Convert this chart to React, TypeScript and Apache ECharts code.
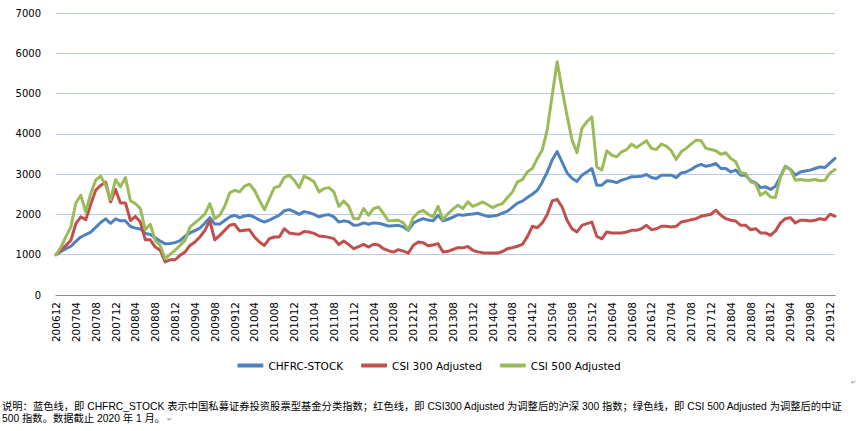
import React, { useEffect, useRef } from "react";
import * as echarts from "echarts";

// Monthly categories 200612 .. 202001
const months: string[] = (() => {
  const out: string[] = [];
  let y = 2006;
  let m = 12;
  while (y < 2020 || (y === 2020 && m <= 1)) {
    out.push(`${y}${m < 10 ? "0" + m : m}`);
    m += 1;
    if (m > 12) {
      m = 1;
      y += 1;
    }
  }
  return out;
})();

const chfrcStock: number[] = [
  1000, 1080, 1150, 1210, 1330, 1440, 1500, 1560, 1680, 1800,
  1890, 1780, 1890, 1840, 1840, 1700, 1660, 1640, 1530, 1500,
  1420, 1340, 1270, 1280, 1300, 1350, 1460, 1540, 1600, 1660,
  1780, 1920, 1760, 1760, 1850, 1940, 1980, 1920, 1960, 1980,
  1930, 1860, 1810, 1860, 1920, 1980, 2090, 2120, 2070, 2000,
  2070, 2045, 2000, 1940, 1980, 1995, 1940, 1810, 1840, 1820,
  1730, 1740, 1790, 1755, 1790, 1780, 1750, 1710, 1720, 1730,
  1690, 1605, 1780, 1850, 1895, 1860, 1840, 1980, 1840, 1880,
  1930, 1995, 1980, 2000, 2010, 2030, 1990, 1950, 1960, 1980,
  2030, 2080, 2180, 2280, 2330, 2420, 2500, 2600, 2800, 3050,
  3350, 3560, 3300, 3030, 2900, 2820, 2975, 3055, 3140, 2725,
  2725, 2835, 2825, 2790, 2850, 2890, 2935, 2935, 2950, 2990,
  2915, 2890, 2975, 2975, 2975, 2915, 3030, 3055, 3115, 3195,
  3245, 3195, 3220, 3265, 3140, 3140, 3055, 3100, 2975, 2975,
  2835, 2785, 2665, 2685, 2620, 2700, 2935, 3195, 3115, 2975,
  3055, 3080, 3100, 3140, 3180, 3165, 3280, 3390,
];

const csi300Adjusted: number[] = [
  1000, 1110, 1230, 1360, 1770, 1940, 1870, 2250, 2600, 2720,
  2800, 2310, 2620, 2285, 2285, 1850, 1950, 1810, 1370, 1370,
  1190, 1110, 820, 875, 875, 985, 1065, 1230, 1315, 1440,
  1605, 1840, 1370, 1480, 1605, 1730, 1755, 1590, 1605, 1620,
  1440, 1315, 1230, 1400, 1440, 1440, 1645, 1540, 1520, 1505,
  1575, 1565, 1530, 1465, 1455, 1430, 1400, 1255, 1340, 1250,
  1150, 1200, 1255, 1190, 1260, 1240, 1150, 1100, 1065, 1125,
  1090, 1040, 1230, 1315, 1300, 1220, 1240, 1275, 1065, 1085,
  1130, 1175, 1170, 1205, 1110, 1070, 1050, 1045, 1040, 1040,
  1080, 1150, 1175, 1210, 1255, 1450, 1705, 1670, 1790, 2000,
  2335, 2375, 2185, 1855, 1645, 1565, 1730, 1770, 1810, 1455,
  1395, 1565, 1540, 1540, 1540, 1565, 1605, 1605, 1645, 1730,
  1620, 1645, 1705, 1705, 1690, 1705, 1810, 1835, 1870, 1895,
  1955, 1980, 2005, 2105, 1980, 1895, 1855, 1835, 1730, 1730,
  1620, 1645, 1540, 1540, 1480, 1590, 1790, 1895, 1920, 1790,
  1855, 1855, 1835, 1855, 1895, 1870, 2005, 1955,
];

const csi500Adjusted: number[] = [
  1000, 1190, 1450, 1690, 2285, 2475, 2060, 2520, 2850, 2950,
  2725, 2370, 2865, 2685, 2915, 2335, 2270, 2145, 1620, 1755,
  1355, 1230, 900, 1010, 1110, 1230, 1355, 1690, 1790, 1895,
  2005, 2270, 1895, 1980, 2205, 2535, 2600, 2560, 2700, 2750,
  2600, 2350, 2120, 2395, 2665, 2700, 2915, 2975, 2850, 2665,
  2950, 2890, 2810, 2560, 2640, 2665, 2560, 2200, 2335, 2200,
  1895, 1895, 2145, 1980, 2145, 2185, 2020, 1840, 1850, 1855,
  1790, 1620, 1920, 2050, 2100, 2005, 1940, 2200, 1870, 2020,
  2130, 2230, 2145, 2310, 2200, 2250, 2310, 2240, 2170, 2230,
  2270, 2420, 2560, 2810, 2865, 3055, 3140, 3390, 3600, 4100,
  4950, 5790, 5100, 4450, 3845, 3530, 4135, 4300, 4425, 3180,
  3100, 3580, 3470, 3430, 3555, 3610, 3745, 3660, 3745, 3830,
  3640, 3610, 3745, 3695, 3580, 3365, 3555, 3640, 3745, 3845,
  3830, 3640, 3610, 3580, 3495, 3530, 3390, 3305, 3030, 3015,
  2810, 2765, 2475, 2560, 2435, 2420, 2930, 3195, 3115, 2850,
  2865, 2850, 2850, 2865, 2835, 2850, 3030, 3115,
];

const seriesNames = ["CHFRC-STOCK", "CSI 300 Adjusted", "CSI 500 Adjusted"];
const seriesColors = ["#4F81BD", "#C0504D", "#9BBB59"];

const noteLine1 =
  "说明：蓝色线，即 CHFRC_STOCK 表示中国私募证券投资股票型基金分类指数；红色线，即 CSI300 Adjusted 为调整后的沪深 300 指数；绿色线，即 CSI 500 Adjusted 为调整后的中证";
const noteLine2 = "500 指数。数据截止 2020 年 1 月。";

const noteFont = "'Liberation Sans', 'Noto Sans CJK SC', sans-serif";

export default function App() {
  const ref = useRef<HTMLDivElement>(null);

  useEffect(() => {
    if (!ref.current) return;
    const chart = echarts.init(ref.current, undefined, { renderer: "svg" });
    const data = [chfrcStock, csi300Adjusted, csi500Adjusted];
    chart.setOption({
      animation: false,
      backgroundColor: "#ffffff",
      grid: { left: 56, right: 23, top: 13, bottom: 136, containLabel: false },
      legend: {
        show: true,
        left: "center",
        top: 355,
        icon: "roundRect",
        itemWidth: 26,
        itemHeight: 4,
        itemGap: 18,
        textStyle: { fontFamily: "DejaVu Sans", fontSize: 10.5, color: "#000" },
        data: seriesNames,
      },
      xAxis: {
        type: "category",
        data: months,
        boundaryGap: false,
        axisLine: { show: true, lineStyle: { color: "#868686", width: 1 } },
        axisTick: { show: false },
        axisLabel: {
          interval: 3,
          rotate: 90,
          margin: 7,
          fontFamily: "DejaVu Sans",
          fontSize: 10.5,
          color: "#000",
        },
        splitLine: { show: false },
      },
      yAxis: {
        type: "value",
        min: 0,
        max: 7000,
        interval: 1000,
        axisLine: { show: false },
        axisTick: { show: false },
        axisLabel: {
          margin: 15,
          fontFamily: "DejaVu Sans",
          fontSize: 10,
          color: "#000",
          formatter: (v: number) => String(v),
        },
        splitLine: { show: true, lineStyle: { color: "#B9CBE6", width: 1 } },
      },
      series: data.map((d, k) => ({
        name: seriesNames[k],
        type: "line",
        data: d,
        showSymbol: false,
        symbol: "none",
        color: seriesColors[k],
        lineStyle: { width: 3, color: seriesColors[k], join: "round", cap: "round" },
        z: 2 + k,
      })),
      graphic: [
        {
          type: "text",
          left: 2,
          top: 401,
          style: {
            text: `{a|${noteLine1}}\n{a|${noteLine2}}{m| ↵}`,
            rich: {
              a: {
                fontFamily: noteFont,
                fontSize: 10.3,
                lineHeight: 12.5,
                fill: "#000",
                color: "#000",
              },
              m: {
                fontFamily: "DejaVu Sans",
                fontSize: 6,
                lineHeight: 12.5,
                fill: "#808080",
                color: "#808080",
              },
            },
          },
        },
        {
          type: "text",
          left: 851,
          top: 378,
          style: { text: "↵", fontFamily: "DejaVu Sans", fontSize: 6, fill: "#808080" },
        },
      ],
    });
    return () => chart.dispose();
  }, []);

  return (
    <div
      ref={ref}
      style={{ position: "fixed", left: 0, top: 0, width: 858, height: 431, background: "#fff" }}
    />
  );
}
